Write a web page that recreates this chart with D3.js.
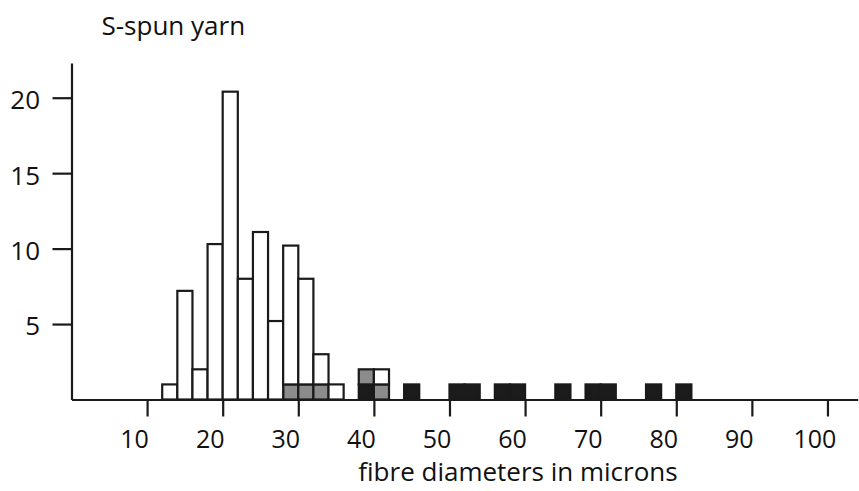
<!DOCTYPE html>
<html>
<head>
<meta charset="utf-8">
<script src="https://cdn.jsdelivr.net/npm/d3@7"></script>
<style>
  body { margin: 0; background: #fff; }
  svg { display: block; font-family: 'Open Sans', 'Noto Sans', sans-serif; }
</style>
</head>
<body>
<svg id="chart" width="859" height="491"></svg>
<script>
'use strict';

// ##################################################
// #  Data                                          #
// ##################################################

// lower edge of each 2-micron bin
const binStarts = [12, 14, 16, 18, 20, 22, 24, 26, 28, 30, 32, 34, 36, 38, 40, 42, 44, 46,
                   48, 50, 52, 54, 56, 58, 60, 62, 64, 66, 68, 70, 72, 74, 76, 78, 80];

// counts per bin, stacked bottom to top: black, grey, white
const blackCounts = [0, 0, 0, 0, 0, 0, 0, 0, 0, 0, 0, 0, 0, 1, 0, 0, 1, 0,
                     0, 1, 1, 0, 1, 1, 0, 0, 1, 0, 1, 1, 0, 0, 1, 0, 1];
const greyCounts  = [0, 0, 0, 0, 0, 0, 0, 0, 1, 1, 1, 0, 0, 1, 1, 0, 0, 0,
                     0, 0, 0, 0, 0, 0, 0, 0, 0, 0, 0, 0, 0, 0, 0, 0, 0];
const whiteCounts = [1, 7.2, 2, 10.3, 20.4, 8, 11.1, 5.2, 9.2, 7, 2, 1, 0, 0, 1, 0, 0, 0,
                     0, 0, 0, 0, 0, 0, 0, 0, 0, 0, 0, 0, 0, 0, 0, 0, 0];

const binWidth = 2;
const xTicks = [10, 20, 30, 40, 50, 60, 70, 80, 90, 100];
const yTicks = [5, 10, 15, 20];

const title = 'S-spun yarn';
const xLabel = 'fibre diameters in microns';

// ##################################################
// #  Chart                                         #
// ##################################################

const svg = d3.select('#chart');
const ink = '#1a1a1a';

const x = d3.scaleLinear([0, 104], [71.5, 857.7]);
const y = d3.scaleLinear([0, 22.3], [399.5, 63]);

let rows = binStarts.map((b, i) => ({
    bin: b,
    black: blackCounts[i],
    grey: greyCounts[i],
    white: whiteCounts[i]
}));

let stack = d3.stack().keys(['black', 'grey', 'white'])(rows);
let fills = { black: '#1b1b1b', grey: '#8c8c8c', white: '#ffffff' };

let layers = svg.append('g').attr('class', 'bars')
    .selectAll('g')
    .data(stack)
    .join('g')
    .attr('fill', d => fills[d.key]);

layers.selectAll('rect')
    .data(d => d.filter(s => s[1] - s[0] > 0))
    .join('rect')
    .attr('x', d => x(d.data.bin))
    .attr('width', d => x(d.data.bin + binWidth) - x(d.data.bin))
    .attr('y', d => y(d[1]))
    .attr('height', d => y(d[0]) - y(d[1]))
    .attr('stroke', ink)
    .attr('stroke-width', 2.2);

// x axis
let xAxis = svg.append('g')
    .attr('transform', `translate(0,${y(0)})`)
    .call(d3.axisBottom(x).tickValues(xTicks).tickSize(17).tickSizeOuter(0));

xAxis.select('.domain').attr('stroke', ink).attr('stroke-width', 2.2);
xAxis.selectAll('.tick line').attr('stroke', ink).attr('stroke-width', 2.2);
xAxis.selectAll('.tick text')
    .attr('y', 48.5)
    .attr('dy', 0)
    .attr('dx', -13)
    .attr('fill', '#111')
    .style('font-size', '25px')
    .style('font-family', "'Open Sans', sans-serif");

// y axis
let yAxis = svg.append('g')
    .attr('transform', `translate(${x(0)},0)`)
    .call(d3.axisLeft(y).tickValues(yTicks).tickSize(19).tickSizeOuter(0));

yAxis.select('.domain').attr('stroke', ink).attr('stroke-width', 2.2);
yAxis.selectAll('.tick line').attr('stroke', ink).attr('stroke-width', 2.2);
yAxis.selectAll('.tick text')
    .attr('x', -31.5)
    .attr('dy', '0.42em')
    .attr('fill', '#111')
    .style('font-size', '26px')
    .style('font-family', "'Open Sans', sans-serif");

// labels
svg.append('text')
    .attr('x', 101.5)
    .attr('y', 35)
    .attr('fill', '#111')
    .style('font-size', '26px')
    .text(title);

svg.append('text')
    .attr('x', 518)
    .attr('y', 481)
    .attr('text-anchor', 'middle')
    .attr('fill', '#111')
    .style('font-size', '26px')
    .text(xLabel);
</script>
</body>
</html>
